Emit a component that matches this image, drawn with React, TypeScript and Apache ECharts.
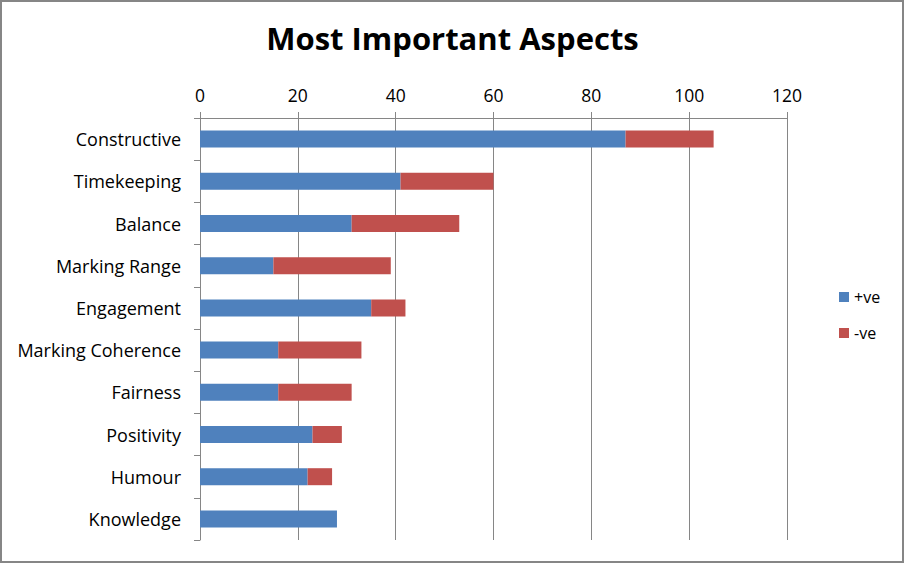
import React, { useEffect, useRef } from "react";
import * as echarts from "echarts";

const categories = [
  "Constructive",
  "Timekeeping",
  "Balance",
  "Marking Range",
  "Engagement",
  "Marking Coherence",
  "Fairness",
  "Positivity",
  "Humour",
  "Knowledge",
];
const positiveValues = [87, 41, 31, 15, 35, 16, 16, 23, 22, 28];
const negativeValues = [18, 19, 22, 24, 7, 17, 15, 6, 5, 0];
const seriesNames = ["+ve", "-ve"];

const FONT = "'Open Sans', sans-serif";

export default function App() {
  const ref = useRef<HTMLDivElement>(null);
  useEffect(() => {
    document.body.style.margin = "0";
    const chart = echarts.init(ref.current!, null, { renderer: "svg" });
    chart.setOption({
      animation: false,
      backgroundColor: "#ffffff",
      title: {
        text: "Most Important Aspects",
        left: "center",
        top: 17,
        textStyle: { fontFamily: FONT, fontWeight: "bold", fontSize: 31, color: "#000" },
      },
      graphic: [
        {
          type: "rect",
          shape: { x: 1, y: 1, width: 902, height: 561 },
          style: { fill: "none", stroke: "#868686", lineWidth: 2 },
          silent: true,
        },
      ],
      legend: {
        orient: "vertical",
        left: 834,
        top: 284,
        itemWidth: 10,
        itemHeight: 10,
        itemGap: 20,
        icon: "rect",
        textStyle: { fontFamily: FONT, fontSize: 16, color: "#000" },
        data: seriesNames,
      },
      grid: { left: 200, right: 118, top: 118, bottom: 24, containLabel: false },
      xAxis: {
        type: "value",
        position: "top",
        min: 0,
        max: 120,
        interval: 20,
        axisLine: { show: true, lineStyle: { color: "#868686", width: 1 } },
        axisTick: { show: true, length: 6, lineStyle: { color: "#868686" } },
        splitLine: { show: true, lineStyle: { color: "#868686", width: 1 } },
        axisLabel: { fontFamily: FONT, fontSize: 17.5, color: "#000", margin: 14 },
      },
      yAxis: {
        type: "category",
        inverse: true,
        data: categories,
        axisLine: { show: true, lineStyle: { color: "#868686", width: 1 } },
        axisTick: { show: true, length: 6, lineStyle: { color: "#868686" } },
        axisLabel: { fontFamily: FONT, fontSize: 18, color: "#000", margin: 19 },
      },
      series: [
        {
          name: seriesNames[0],
          type: "bar",
          stack: "total",
          data: positiveValues,
          barWidth: 17,
          itemStyle: { color: "#4F81BD" },
        },
        {
          name: seriesNames[1],
          type: "bar",
          stack: "total",
          data: negativeValues,
          barWidth: 17,
          itemStyle: { color: "#C0504D" },
        },
      ],
    });
    return () => chart.dispose();
  }, []);
  return <div ref={ref} style={{ width: 905, height: 564 }} />;
}
